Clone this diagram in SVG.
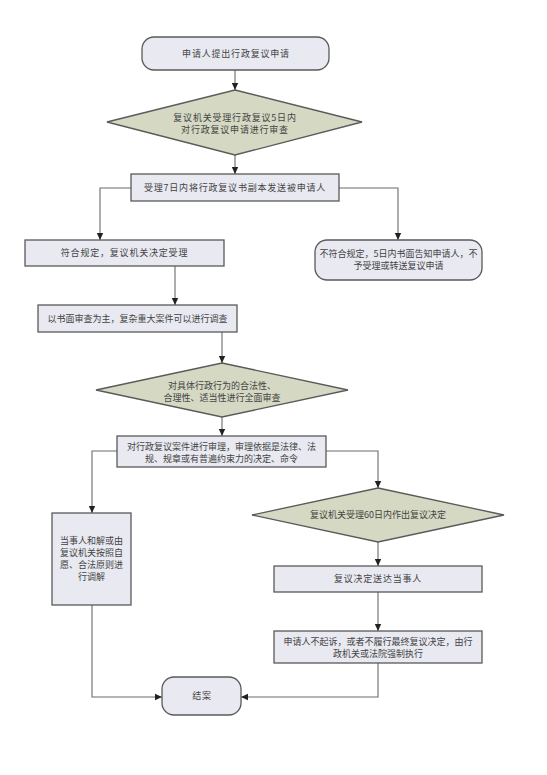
<svg xmlns="http://www.w3.org/2000/svg" width="547" height="775" viewBox="0 0 547 775">
<defs>
<marker id="arr" markerWidth="8" markerHeight="8" refX="7" refY="4" orient="auto" markerUnits="userSpaceOnUse">
<path d="M0,0.8 L7,4 L0,7.2 Z" fill="#222"/>
</marker>
<style>
.box{fill:#e8e9f1;stroke:#5a5a5a;stroke-width:1.3}
.dia{fill:#d5d8c2;stroke:#5a5a5a;stroke-width:1.3}
.t{font-family:"Noto Sans CJK SC","Noto Sans CJK JP",sans-serif;font-size:9px;fill:#444;text-anchor:middle}
.w{letter-spacing:0.8px}
.c{fill:none;stroke:#6a6a6a;stroke-width:1.1;marker-end:url(#arr)}
</style>
</defs>
<rect width="547" height="775" fill="#ffffff"/>
<g id="connectors">
<path class="c" d="M235,70 V90"/>
<path class="c" d="M235,155 V174"/>
<path class="c" d="M131,188 H100 V240"/>
<path class="c" d="M339,188 H398 V240"/>
<path class="c" d="M175,266 V305"/>
<path class="c" d="M222,332 V363"/>
<path class="c" d="M222,417 V436"/>
<path class="c" d="M117,451 H92 V513"/>
<path class="c" d="M326,451 H378 V488"/>
<path class="c" d="M378,542 V566"/>
<path class="c" d="M378,592 V631"/>
<path class="c" d="M92,605 V697 H162"/>
<path class="c" d="M378,663 V697 H241"/>
</g>
<g id="n1">
<rect class="box" x="142" y="37" width="187" height="33" rx="12"/>
<text class="t w" x="236" y="56.5">申请人提出行政复议申请</text>
</g>
<g id="n2">
<polygon class="dia" points="235,90 362,122 235,155 107,122"/>
<text class="t w" x="235" y="121">复议机关受理行政复议5日内</text>
<text class="t w" x="235" y="133">对行政复议申请进行审查</text>
</g>
<g id="n3">
<rect class="box" x="131" y="174" width="208" height="27"/>
<text class="t w" x="235" y="190.5">受理7日内将行政复议书副本发送被申请人</text>
</g>
<g id="n4">
<rect class="box" x="25" y="240" width="199" height="26"/>
<text class="t w" x="124.5" y="256">符合规定，复议机关决定受理</text>
</g>
<g id="n5">
<rect class="box" x="315" y="240" width="167" height="40" rx="12"/>
<text class="t" x="398.5" y="257">不符合规定，5日内书面告知申请人，不</text>
<text class="t" x="398.5" y="269">予受理或转送复议申请</text>
</g>
<g id="n6">
<rect class="box" x="38" y="305" width="199" height="27"/>
<text class="t" x="137.5" y="321.5">以书面审查为主，复杂重大案件可以进行调查</text>
</g>
<g id="n7">
<polygon class="dia" points="222,363 348,390 222,417 96,390"/>
<text class="t" x="222" y="389">对具体行政行为的合法性、</text>
<text class="t" x="222" y="401">合理性、适当性进行全面审查</text>
</g>
<g id="n8">
<rect class="box" x="117" y="436" width="209" height="31"/>
<text class="t" x="221.5" y="450">对行政复议案件进行审理，审理依据是法律、法</text>
<text class="t" x="221.5" y="462">规、规章或有普遍约束力的决定、命令</text>
</g>
<g id="n9">
<rect class="box" x="52" y="513" width="79" height="92"/>
<text class="t" x="91.5" y="544">当事人和解或由</text>
<text class="t" x="91.5" y="556">复议机关按照自</text>
<text class="t" x="91.5" y="568">愿、合法原则进</text>
<text class="t" x="91.5" y="580">行调解</text>
</g>
<g id="n10">
<polygon class="dia" points="378,488 504,515 378,542 252,515"/>
<text class="t" x="378" y="518">复议机关受理60日内作出复议决定</text>
</g>
<g id="n11">
<rect class="box" x="274" y="566" width="208" height="26"/>
<text class="t w" x="378" y="582">复议决定送达当事人</text>
</g>
<g id="n12">
<rect class="box" x="274" y="631" width="208" height="32"/>
<text class="t" x="378" y="645">申请人不起诉，或者不履行最终复议决定，由行</text>
<text class="t" x="378" y="657">政机关或法院强制执行</text>
</g>
<g id="n13">
<rect class="box" x="162" y="677" width="79" height="38" rx="12"/>
<text class="t w" x="202" y="699">结案</text>
</g>
</svg>
